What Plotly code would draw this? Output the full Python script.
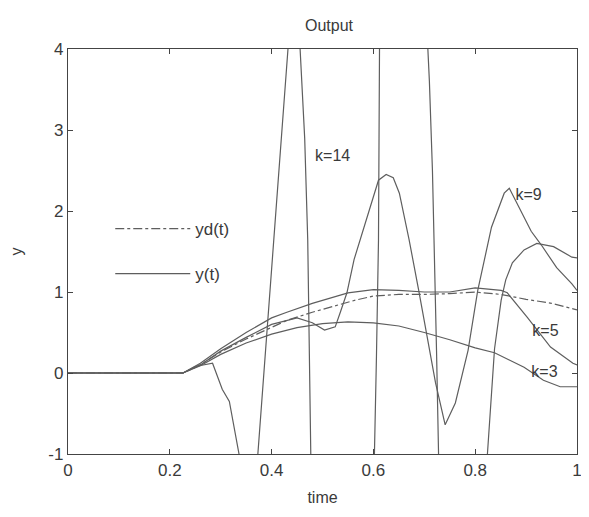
import plotly.graph_objects as go

# desired output yd(t)
t_yd = [0, 0.226, 0.26, 0.3, 0.35, 0.4, 0.43, 0.48, 0.52, 0.565, 0.6, 0.65, 0.7, 0.75, 0.8, 0.85, 0.9, 0.95, 1.0]
v_yd = [0, 0, 0.1, 0.26, 0.42, 0.57, 0.65, 0.75, 0.82, 0.9, 0.95, 0.97, 0.97, 0.98, 1.0, 0.97, 0.91, 0.86, 0.78]

# k = 3
t_k3 = [0, 0.226, 0.26, 0.3, 0.35, 0.4, 0.45, 0.5, 0.55, 0.6, 0.65, 0.7, 0.75, 0.8, 0.838, 0.896, 0.934, 0.967, 1.0]
v_k3 = [0, 0, 0.09, 0.23, 0.37, 0.48, 0.56, 0.61, 0.63, 0.62, 0.58, 0.5, 0.41, 0.31, 0.25, 0.07, -0.09, -0.17, -0.17]

# k = 5
t_k5 = [0, 0.226, 0.26, 0.3, 0.35, 0.4, 0.43, 0.48, 0.55, 0.6, 0.65, 0.7, 0.75, 0.8, 0.851, 0.863, 0.902, 0.948, 0.992, 1.0]
v_k5 = [0, 0, 0.12, 0.3, 0.5, 0.68, 0.75, 0.86, 0.99, 1.03, 1.02, 1.0, 1.0, 1.05, 1.02, 0.99, 0.69, 0.32, 0.12, 0.1]

# k = 9
t_k9 = [0, 0.226, 0.26, 0.3, 0.35, 0.4, 0.45, 0.48, 0.504, 0.525, 0.535, 0.548, 0.562, 0.593, 0.61, 0.625,
        0.639, 0.651, 0.67, 0.689, 0.722, 0.741, 0.761, 0.786, 0.805, 0.832, 0.857, 0.867, 0.88, 0.91, 0.93,
        0.96, 0.99, 1.0]
v_k9 = [0, 0, 0.1, 0.27, 0.44, 0.6, 0.68, 0.62, 0.53, 0.57, 0.75, 0.99, 1.4, 2.05, 2.38, 2.45,
        2.41, 2.22, 1.65, 1.02, -0.12, -0.64, -0.37, 0.28, 1.02, 1.8, 2.22, 2.28, 2.12, 1.75, 1.58,
        1.3, 1.1, 1.02]

# k = 14
t_k14 = [0, 0.226, 0.25, 0.284, 0.303, 0.317, 0.336, 0.355, 0.373, 0.403, 0.417, 0.432, 0.444, 0.456,
         0.465, 0.471, 0.477, 0.54, 0.602, 0.606, 0.61, 0.612, 0.66, 0.707, 0.71, 0.716, 0.72, 0.724,
         0.728, 0.776, 0.824, 0.838, 0.851, 0.86, 0.873, 0.896, 0.921, 0.954, 0.99, 1.0]
v_k14 = [0, 0, 0.08, 0.12, -0.2, -0.35, -1.0, -2.0, -1.0, 1.55, 2.8, 4.0, 5.0, 4.0,
         2.9, 1.64, -1.0, -4.0, -1.0, 0.2, 1.64, 4.0, 8.0, 4.0, 3.6, 2.5, 1.52, 0.28,
         -1.0, -4.0, -1.0, 0.3, 0.9, 1.15, 1.36, 1.52, 1.6, 1.56, 1.43, 1.42]

# curve labels
lab_text = ["k=14", "k=9", "k=5", "k=3"]
lab_t = [0.52, 0.905, 0.938, 0.936]
lab_v = [2.67, 2.19, 0.51, 0.0]

x_ticks = [0, 0.2, 0.4, 0.6, 0.8, 1]
x_ticktext = ["0", "0.2", "0.4", "0.6", "0.8", "1"]
y_ticks = [-1, 0, 1, 2, 3, 4]
y_ticktext = ["-1", "0", "1", "2", "3", "4"]

LC = "#5e5e5e"
TC = "#3a3a3a"
FONT = "Liberation Sans, Arial, sans-serif"

fig = go.Figure()
fig.add_trace(go.Scatter(x=t_yd, y=v_yd, mode="lines", name="yd(t)", legendgroup="a",
                         line=dict(color=LC, width=1.2, dash="dashdot")))
fig.add_trace(go.Scatter(x=t_k3, y=v_k3, mode="lines", name="y(t)", legendgroup="b",
                         line=dict(color=LC, width=1.2)))
for tt, vv in [(t_k5, v_k5), (t_k9, v_k9), (t_k14, v_k14)]:
    fig.add_trace(go.Scatter(x=tt, y=vv, mode="lines", showlegend=False,
                             line=dict(color=LC, width=1.2)))

fig.add_trace(go.Scatter(x=lab_t, y=lab_v, mode="text", text=lab_text, showlegend=False,
                         textfont=dict(family=FONT, size=16, color=TC),
                         textposition="middle center", cliponaxis=False))

axis_common = dict(showline=True, linecolor="#444444", linewidth=1.3, mirror="ticks",
                   ticks="inside", ticklen=5, tickcolor="#444444", showgrid=False,
                   zeroline=False, ticklabeloverflow="allow",
                   tickfont=dict(family=FONT, size=17, color=TC))

fig.update_layout(
    width=581, height=509,
    margin=dict(l=58, r=7, t=41, b=63),
    paper_bgcolor="white", plot_bgcolor="white",
    title=dict(text="Output", x=0.5525, xanchor="center", y=0.965, yanchor="middle",
               font=dict(family=FONT, size=16, color=TC)),
    xaxis=dict(range=[0, 1], tickvals=x_ticks, ticktext=x_ticktext,
               title=dict(text="time", font=dict(family=FONT, size=16, color=TC), standoff=13),
               **axis_common),
    yaxis=dict(range=[-1, 4], tickvals=y_ticks, ticktext=y_ticktext,
               title=dict(text="y", font=dict(family=FONT, size=16, color=TC), standoff=22),
               **axis_common),
    legend=dict(x=0.083, y=0.60, xanchor="left", yanchor="top", bgcolor="rgba(0,0,0,0)",
                borderwidth=0, itemwidth=75, tracegroupgap=20, traceorder="grouped",
                font=dict(family=FONT, size=17, color=TC)),
    showlegend=True,
)

fig.write_html("out.html")
